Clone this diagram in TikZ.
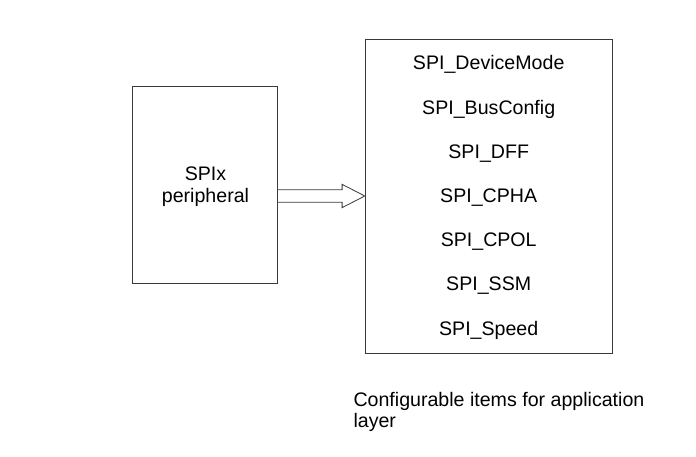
\documentclass[tikz,border=0pt]{standalone}
\usepackage{fontspec}
\setmainfont{Liberation Sans}
\usetikzlibrary{calc}
\definecolor{linegray}{HTML}{3A3A3A}
\begin{document}
\begin{tikzpicture}[x=1pt,y=-1pt,
  box/.style={draw=linegray,line width=0.8pt,minimum width=#1,inner sep=0pt},
  lbl/.style={anchor=base,inner sep=0pt,font=\fontsize{19.6}{22}\selectfont},
  arrowshape/.style={draw=linegray,line width=0.8pt,line join=miter}]
\useasboundingbox (0,0) rectangle (696,457);
\node[box=145pt,minimum height=197pt] (L) at (205.2,184.5) {};
\node[box=247pt,minimum height=314pt] (R) at (488.7,196) {};
\node[lbl] (l1) at (205.5,181) {SPIx};
\node[lbl] (l2) at (205.5,202.7) {peripheral};
\node[lbl] (r1) at (488.7,70) {SPI\_DeviceMode};
\node[lbl] (r2) at (488.7,114.2) {SPI\_BusConfig};
\node[lbl] (r3) at (488.7,158.3) {SPI\_DFF};
\node[lbl] (r4) at (488.7,202.5) {SPI\_CPHA};
\node[lbl] (r5) at (488.7,246.7) {SPI\_CPOL};
\node[lbl] (r6) at (488.7,290.8) {SPI\_SSM};
\node[lbl] (r7) at (488.7,335) {SPI\_Speed};
\node[lbl,anchor=base west] (c1) at (353.3,406) {Configurable items for application};
\node[lbl,anchor=base west] (c2) at (353.3,427.5) {layer};
\coordinate (a0) at (L.east |- R.west);
\draw[arrowshape] ($(a0)+(0,-6.3)$) -- ($(R.west)+(-22.7,-6.3)$) -- ($(R.west)+(-22.7,-11.65)$)
  -- (R.west) -- ($(R.west)+(-22.7,11.65)$) -- ($(R.west)+(-22.7,6.3)$) -- ($(a0)+(0,6.3)$);
\end{tikzpicture}
\end{document}
